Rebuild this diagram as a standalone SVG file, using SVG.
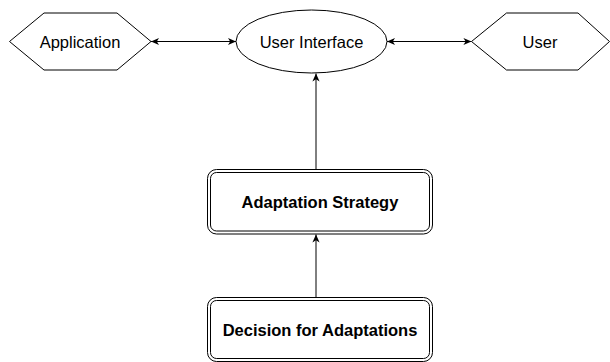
<svg xmlns="http://www.w3.org/2000/svg" width="610" height="362" viewBox="0 0 610 362">
<style>
.shape{fill:#fff;stroke:#000;stroke-width:1}
.lbl{font-family:"Liberation Sans",Arial,sans-serif;font-size:16.5px;fill:#000;text-anchor:middle}
.b{font-weight:bold}
.edge{fill:none;stroke:#000;stroke-width:1}
</style>
<defs>
<marker id="arr" viewBox="0 0 10 10" refX="9" refY="5" markerWidth="9" markerHeight="9" markerUnits="userSpaceOnUse" orient="auto-start-reverse">
<path d="M0,1 L9,5 L0,9 L2.5,5 Z" fill="#000"/>
</marker>
</defs>
<rect width="610" height="362" fill="#fff"/>
<g id="connectors">
<line class="edge" x1="151" y1="41.5" x2="236" y2="41.5" marker-start="url(#arr)" marker-end="url(#arr)"/>
<line class="edge" x1="387" y1="41.5" x2="471.5" y2="41.5" marker-start="url(#arr)" marker-end="url(#arr)"/>
<line class="edge" x1="316" y1="169" x2="316" y2="73.5" marker-end="url(#arr)"/>
<line class="edge" x1="316" y1="297" x2="316" y2="234.5" marker-end="url(#arr)"/>
</g>
<g id="application">
<polygon class="shape" points="9.5,41.5 44,13 117,13 151,41.5 117,70 44,70"/>
<text class="lbl" x="80" y="47.5">Application</text>
</g>
<g id="user-interface">
<ellipse class="shape" cx="311.5" cy="41.5" rx="75.5" ry="31.5"/>
<text class="lbl" x="311.5" y="47.5">User Interface</text>
</g>
<g id="user">
<polygon class="shape" points="471.5,41.5 506.5,13 578,13 609.5,41.5 578,70 506.5,70"/>
<text class="lbl" x="540" y="47.5">User</text>
</g>
<g id="adaptation-strategy">
<rect class="shape" x="207.5" y="169.5" width="225" height="64.5" rx="9"/>
<rect class="shape" x="210.5" y="172.5" width="219" height="58.5" rx="6"/>
<text class="lbl b" x="320" y="207.5">Adaptation Strategy</text>
</g>
<g id="decision-for-adaptations">
<rect class="shape" x="207.5" y="297.5" width="225" height="64" rx="9"/>
<rect class="shape" x="210.5" y="300.5" width="219" height="58" rx="6"/>
<text class="lbl b" x="320" y="335.5">Decision for Adaptations</text>
</g>
</svg>
